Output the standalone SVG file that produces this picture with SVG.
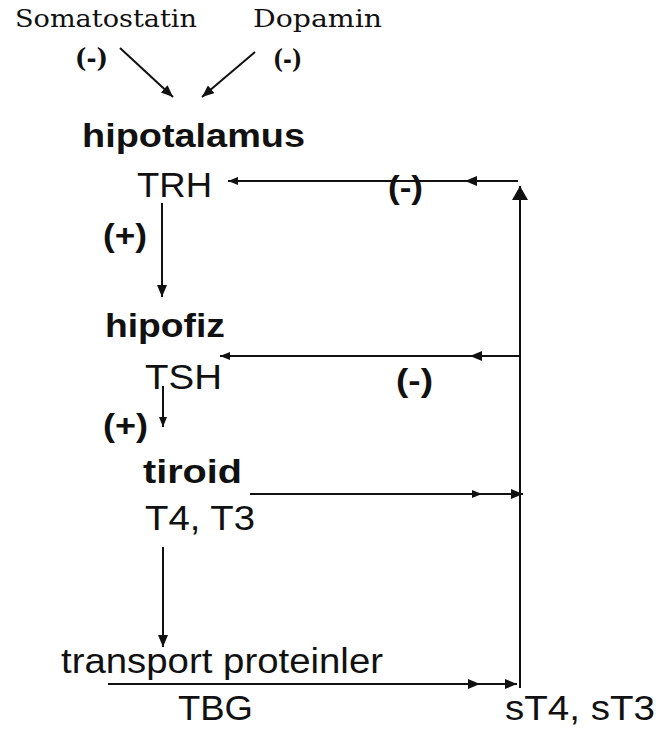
<svg xmlns="http://www.w3.org/2000/svg" width="659" height="731" viewBox="0 0 659 731">
<style>
.serif{font-family:"DejaVu Serif","Liberation Serif",serif;fill:#111}
.sans{font-family:"Liberation Sans",Arial,sans-serif;fill:#111}
.b{font-weight:bold}
.ln{stroke:#111;stroke-width:2;fill:none}
</style>
<defs>
<marker id="ah" markerUnits="userSpaceOnUse" markerWidth="12" markerHeight="10" refX="12" refY="5" orient="auto"><path d="M0,0 L12,5 L0,10 z" fill="#111"/></marker>
<marker id="ahs" markerUnits="userSpaceOnUse" markerWidth="10" markerHeight="8" refX="10" refY="4" orient="auto"><path d="M0,0 L10,4 L0,8 z" fill="#111"/></marker>
<marker id="ahb" markerUnits="userSpaceOnUse" markerWidth="14" markerHeight="16" refX="14" refY="8" orient="auto"><path d="M0,0 L14,8 L0,16 z" fill="#111"/></marker>
</defs>
<rect width="659" height="731" fill="#fff"/>
<g id="somatostatin"><text class="serif" x="15" y="27" font-size="24" textLength="182" lengthAdjust="spacingAndGlyphs">Somatostatin</text><text class="serif b" x="75" y="67" font-size="26" textLength="33" lengthAdjust="spacingAndGlyphs">(-)</text></g>
<g id="dopamin"><text class="serif" x="253" y="27" font-size="24" textLength="129" lengthAdjust="spacingAndGlyphs">Dopamin</text><text class="serif b" x="273" y="68" font-size="26" textLength="29" lengthAdjust="spacingAndGlyphs">(-)</text></g>
<g id="hipotalamus"><text class="sans b" x="82" y="147" font-size="33" textLength="223" lengthAdjust="spacingAndGlyphs">hipotalamus</text><text class="sans" x="137" y="197" font-size="35" textLength="75" lengthAdjust="spacingAndGlyphs">TRH</text></g>
<g id="hipofiz"><text class="sans b" x="105" y="337" font-size="33" textLength="120" lengthAdjust="spacingAndGlyphs">hipofiz</text><text class="sans" x="145" y="389" font-size="35" textLength="77" lengthAdjust="spacingAndGlyphs">TSH</text></g>
<g id="tiroid"><text class="sans b" x="143" y="483" font-size="33" textLength="99" lengthAdjust="spacingAndGlyphs">tiroid</text><text class="sans" x="145" y="530" font-size="35" textLength="110" lengthAdjust="spacingAndGlyphs">T4, T3</text></g>
<g id="transport"><text class="sans" x="61" y="673" font-size="35" textLength="322" lengthAdjust="spacingAndGlyphs">transport proteinler</text><text class="sans" x="178" y="720" font-size="35" textLength="75" lengthAdjust="spacingAndGlyphs">TBG</text></g>
<g id="free"><text class="sans" x="505" y="720" font-size="35" textLength="150" lengthAdjust="spacingAndGlyphs">sT4, sT3</text></g>
<g id="labels">
<text class="sans b" x="388" y="198" font-size="31" textLength="35" lengthAdjust="spacingAndGlyphs">(-)</text>
<text class="sans b" x="396" y="391" font-size="31" textLength="37" lengthAdjust="spacingAndGlyphs">(-)</text>
<text class="sans b" x="103" y="246" font-size="31" textLength="44" lengthAdjust="spacingAndGlyphs">(+)</text>
<text class="sans b" x="103" y="436" font-size="31" textLength="45" lengthAdjust="spacingAndGlyphs">(+)</text>
</g>
<g id="connectors">
<line class="ln" x1="120" y1="48" x2="173" y2="97" marker-end="url(#ah)"/>
<line class="ln" x1="255" y1="52" x2="202" y2="97" marker-end="url(#ah)"/>
<path class="ln" d="M518,181 L465,181 L228,181" marker-mid="url(#ah)" marker-end="url(#ahs)"/>
<path class="ln" d="M520,688 L520,186" marker-end="url(#ahb)"/>
<path class="ln" d="M162,203 L162,297" marker-end="url(#ah)"/>
<path class="ln" d="M520,356 L470,356 L220,356" marker-mid="url(#ah)" marker-end="url(#ahs)"/>
<path class="ln" d="M163,386 L163,427" marker-end="url(#ahs)"/>
<path class="ln" d="M250,494 L482,494 L523,494" marker-mid="url(#ahs)" marker-end="url(#ah)"/>
<path class="ln" d="M163,547 L163,647" marker-end="url(#ah)"/>
<path class="ln" d="M108,684 L480,684 L517,684" marker-mid="url(#ah)" marker-end="url(#ah)"/>
</g>
</svg>
